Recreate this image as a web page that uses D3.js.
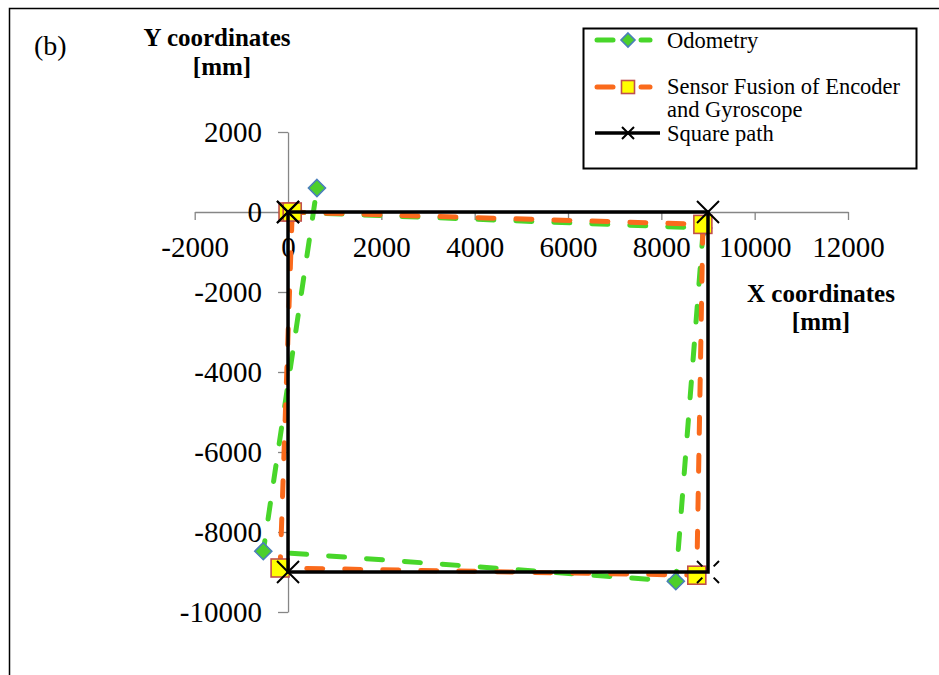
<!DOCTYPE html>
<html>
<head>
<meta charset="utf-8">
<script src="https://cdn.jsdelivr.net/npm/d3@7"></script>
<style>
  body { margin: 0; background: #fff; }
  text { font-family: "Liberation Serif", "Times New Roman", serif; }
</style>
</head>
<body>
<svg id="chart" width="939" height="675"></svg>
<script>
// Series names (legend order)
const seriesNames = ["Odometry", "Sensor Fusion of Encoder", "and Gyroscope", "Square path"];

// Odometry trajectory [mm]
const odometryX = [0, 8900, 8310, -530, 620];
const odometryY = [0, -400, -9230, -8480, 600];

// Sensor fusion of encoder and gyroscope trajectory [mm]
const fusionX = [0, 8890, 8760, -170, 90];
const fusionY = [0, -310, -9080, -8900, 0];

// Reference square path [mm]
const squareX = [0, 9000, 9000, 0, 0];
const squareY = [0, 0, -9000, -9000, 0];

// Axis ticks
const xTicks = [-2000, 0, 2000, 4000, 6000, 8000, 10000, 12000];
const yTicks = [2000, 0, -2000, -4000, -6000, -8000, -10000];

const svg = d3.select("#chart");

// Outer frame
svg.append("rect")
  .attr("x", 9.5).attr("y", 8.5)
  .attr("width", 960).attr("height", 700)
  .attr("fill", "none").attr("stroke", "#000").attr("stroke-width", 1.5);

const x = d3.scaleLinear().domain([-2000, 12000]).range([194.7, 848]);
const y = d3.scaleLinear().domain([-10000, 2000]).range([612, 132]);

const axisColor = "#868686";

// X axis through y = 0
const gx = svg.append("g")
  .attr("transform", `translate(0,${y(0)})`)
  .call(d3.axisBottom(x).tickValues(xTicks).tickSize(8).tickSizeOuter(0)
        .tickPadding(16).tickFormat(d => String(d)));

// Y axis through x = 0
const gy = svg.append("g")
  .attr("transform", `translate(${x(0)},0)`)
  .call(d3.axisLeft(y).tickValues(yTicks).tickSize(10).tickSizeOuter(0)
        .tickPadding(16).tickFormat(d => String(d)));

[gx, gy].forEach(g => {
  g.select(".domain").attr("stroke", axisColor).attr("stroke-width", 1.3);
  g.selectAll(".tick line").attr("stroke", axisColor).attr("stroke-width", 1.3);
  g.selectAll(".tick text")
    .attr("fill", "#000")
    .style("font-family", "'Liberation Serif', 'Times New Roman', serif")
    .style("font-size", "29px");
});

const line = d3.line().x(d => x(d[0])).y(d => y(d[1]));
const zip = (xs, ys) => xs.map((v, i) => [v, ys[i]]);

const odometry = zip(odometryX, odometryY);
const fusion = zip(fusionX, fusionY);
const square = zip(squareX, squareY);

const green = "#48d62a";
const orange = "#fa6a1c";

function diamond(g, cx, cy, r) {
  g.append("path")
    .attr("d", `M${cx},${cy - r}L${cx + r},${cy}L${cx},${cy + r}L${cx - r},${cy}Z`)
    .attr("fill", "#4ccf2c").attr("stroke", "#4a7ebb").attr("stroke-width", 1.6);
}
function squareMarker(g, cx, cy, s) {
  g.append("rect")
    .attr("x", cx - s / 2).attr("y", cy - s / 2)
    .attr("width", s).attr("height", s)
    .attr("fill", "#ffff00").attr("stroke", "#c0504d").attr("stroke-width", 1.6);
}
function crossMarker(g, cx, cy, r, dashed) {
  const p = g.append("path")
    .attr("d", `M${cx - r},${cy - r}L${cx + r},${cy + r}M${cx + r},${cy - r}L${cx - r},${cy + r}`)
    .attr("stroke", "#000").attr("stroke-width", 2).attr("fill", "none");
  if (dashed) {
    // broken cross: only the outer part of each arm is drawn
    const len = Math.SQRT2 * r * 2;
    const arm = len / 2 - 8;
    p.attr("stroke-dasharray", `${arm} ${len - 2 * arm} ${arm}`);
  }
}

const plot = svg.append("g");

// Odometry
plot.append("path").datum(odometry).attr("d", line)
  .attr("fill", "none").attr("stroke", green).attr("stroke-width", 5)
  .attr("stroke-linecap", "round").attr("stroke-dasharray", "16 22");
odometry.forEach(d => diamond(plot, x(d[0]), y(d[1]), 8.5));

// Sensor fusion
plot.append("path").datum(fusion).attr("d", line)
  .attr("fill", "none").attr("stroke", orange).attr("stroke-width", 5)
  .attr("stroke-linecap", "round").attr("stroke-dasharray", "16 22");
fusion.forEach(d => squareMarker(plot, x(d[0]), y(d[1]), 18));

// Square path
plot.append("path").datum(square).attr("d", line)
  .attr("fill", "none").attr("stroke", "#000").attr("stroke-width", 3.5)
  .attr("stroke-linejoin", "miter");
square.forEach((d, i) => crossMarker(plot, x(d[0]), y(d[1]), 11, i === 2));

// Axis titles
const title = svg.append("g").style("font-weight", "bold").style("font-size", "25px");
title.append("text").attr("x", 217).attr("y", 46).attr("text-anchor", "middle").text("Y coordinates");
title.append("text").attr("x", 222).attr("y", 75).attr("text-anchor", "middle").text("[mm]");
title.append("text").attr("x", 821).attr("y", 302).attr("text-anchor", "middle").text("X coordinates");
title.append("text").attr("x", 821).attr("y", 330).attr("text-anchor", "middle").text("[mm]");

svg.append("text").attr("x", 34).attr("y", 55).style("font-size", "28px").text("(b)");

// Legend
const lg = svg.append("g");
lg.append("rect").attr("x", 583.5).attr("y", 28.5).attr("width", 333).attr("height", 140)
  .attr("fill", "#fff").attr("stroke", "#000").attr("stroke-width", 2);

const ly = [40, 87, 133];
[[597, 613], [641, 650]].forEach(s => {
  lg.append("line").attr("x1", s[0]).attr("x2", s[1]).attr("y1", ly[0]).attr("y2", ly[0])
    .attr("stroke", green).attr("stroke-width", 5).attr("stroke-linecap", "round");
  lg.append("line").attr("x1", s[0]).attr("x2", s[1]).attr("y1", ly[1]).attr("y2", ly[1])
    .attr("stroke", orange).attr("stroke-width", 5).attr("stroke-linecap", "round");
});
diamond(lg, 628, ly[0], 7);
squareMarker(lg, 628, ly[1], 13);
lg.append("line").attr("x1", 595).attr("x2", 660).attr("y1", ly[2]).attr("y2", ly[2])
  .attr("stroke", "#000").attr("stroke-width", 3.5);
crossMarker(lg, 628, ly[2], 6, false);

const lt = lg.append("g").style("font-size", "22.5px");
lt.append("text").attr("x", 667).attr("y", 48).text(seriesNames[0]);
lt.append("text").attr("x", 667).attr("y", 94).text(seriesNames[1]);
lt.append("text").attr("x", 667).attr("y", 117).text(seriesNames[2]);
lt.append("text").attr("x", 667).attr("y", 141).text(seriesNames[3]);
</script>
</body>
</html>
